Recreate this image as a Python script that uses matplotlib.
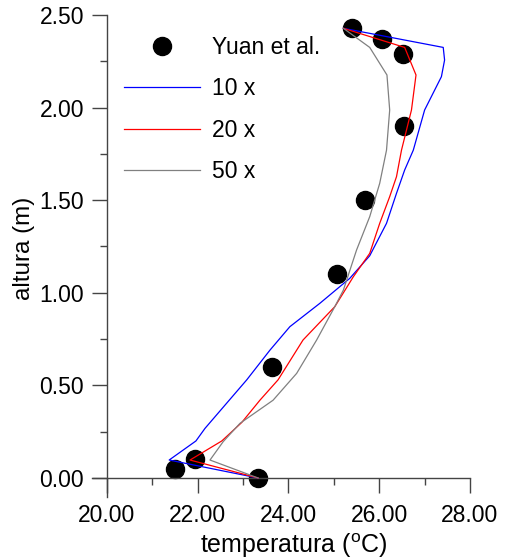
import matplotlib
matplotlib.use('Agg')
import matplotlib.pyplot as plt
from matplotlib.ticker import MultipleLocator, FormatStrFormatter

plt.rcParams['font.family'] = ['Liberation Sans', 'DejaVu Sans']
plt.rcParams['mathtext.fontset'] = 'custom'
plt.rcParams['mathtext.rm'] = 'Liberation Sans'

# medidas (Yuan et al.)
yuan_t = [23.33, 21.50, 21.95, 23.63, 25.07, 25.68, 26.55, 26.53, 26.05, 25.39]
yuan_h = [0.00, 0.05, 0.10, 0.60, 1.10, 1.50, 1.90, 2.29, 2.37, 2.43]

# 10 x
t10 = [23.33, 21.37, 21.96, 22.16, 23.08, 23.59, 24.03, 24.69, 25.35, 25.79,
       26.16, 26.38, 26.56, 26.75, 27.00, 27.37, 27.44, 27.41, 25.21]
h10 = [0.00, 0.097, 0.20, 0.268, 0.53, 0.69, 0.817, 0.943, 1.078, 1.20,
       1.375, 1.537, 1.663, 1.77, 1.987, 2.167, 2.257, 2.325, 2.428]

# 20 x
t20 = [23.33, 21.83, 22.53, 22.97, 23.37, 23.77, 24.32, 25.02, 25.43, 25.79,
       26.01, 26.23, 26.38, 26.49, 26.71, 26.81, 26.56, 25.21]
h20 = [0.00, 0.097, 0.20, 0.30, 0.42, 0.53, 0.745, 0.925, 1.087, 1.213,
       1.375, 1.519, 1.627, 1.77, 1.987, 2.176, 2.325, 2.428]

# 50 x
t50 = [23.33, 22.27, 22.56, 22.93, 23.66, 24.18, 24.62, 25.02, 25.21, 25.50,
       25.79, 26.01, 26.16, 26.23, 26.17, 25.79, 25.21]
h50 = [0.00, 0.097, 0.196, 0.295, 0.42, 0.565, 0.745, 0.925, 1.015, 1.231,
       1.411, 1.591, 1.77, 1.987, 2.176, 2.325, 2.428]

fig = plt.figure(figsize=(5.09, 5.6), dpi=100)
ax = fig.add_axes([92/509, 1 - 497/560, (470 - 92)/509, (497 - 15)/560])

ax.plot(yuan_t, yuan_h, 'o', color='black', markersize=13, label='Yuan et al.', zorder=2)
ax.plot(t10, h10, '-', color='#0000ff', lw=0.9, label='10 x', zorder=3)
ax.plot(t20, h20, '-', color='#ff0000', lw=0.9, label='20 x', zorder=3)
ax.plot(t50, h50, '-', color='#808080', lw=0.9, label='50 x', zorder=3)

ax.set_xlim(20 - 15/45.4, 28)
ax.set_ylim(-19/185.2, 2.5)
ax.spines['left'].set_position(('data', 20))
ax.spines['bottom'].set_position(('data', 0))
ax.spines['right'].set_visible(False)
ax.spines['top'].set_visible(False)
for s in ['left', 'bottom']:
    ax.spines[s].set_color('#444444')
    ax.spines[s].set_linewidth(1.0)

ax.xaxis.set_minor_locator(MultipleLocator(1))
ax.yaxis.set_minor_locator(MultipleLocator(0.25))
ax.set_xticks([20, 22, 24, 26, 28])
ax.set_yticks([0, 0.5, 1.0, 1.5, 2.0, 2.5])
ax.xaxis.set_major_formatter(FormatStrFormatter('%.2f'))
ax.yaxis.set_major_formatter(FormatStrFormatter('%.2f'))
ax.tick_params(which='major', direction='out', length=10.5, width=1.0, color='#444444',
               labelsize=16.5)
ax.tick_params(axis='x', which='major', pad=8.5)
ax.tick_params(axis='y', which='major', pad=6)
ax.tick_params(which='minor', direction='out', length=5, width=1.0, color='#444444')

ax.set_xlabel(r'temperatura ($^{\mathrm{o}}$C)', fontsize=18)
ax.set_ylabel('altura (m)', fontsize=17.5)
ax.xaxis.set_label_coords((294 - 92)/378, (497 - 531)/482)
ax.yaxis.set_label_coords((35 - 92)/378, (497 - 248)/482)

ax.legend(loc='upper left', bbox_to_anchor=(124/509, 1 - 36/560),
          bbox_transform=fig.transFigure, frameon=False, fontsize=16.5,
          handlelength=3.3, handletextpad=0.55, labelspacing=0.8,
          borderpad=0, borderaxespad=0, numpoints=1)

fig.savefig('out.png', dpi=100)
